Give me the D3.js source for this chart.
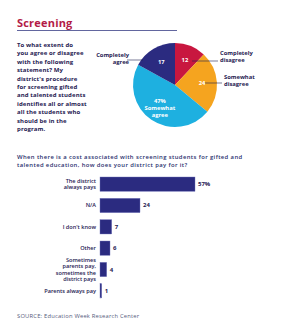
<!DOCTYPE html>
<html>
<head>
<meta charset="utf-8">
<script src="https://cdn.jsdelivr.net/npm/d3@7"></script>
<style>
  body { margin: 0; background: #fff; }
  text { font-family: "Open Sans", sans-serif; }
</style>
</head>
<body>
<script>
// chart values
var title = "Screening";
var question1 = ["To what extent do", "you agree or disagree", "with the following", "statement? My",
  "district's procedure", "for screening gifted", "and talented students", "identifies all or almost",
  "all the students who", "should be in the", "program."];
var pieLabels = ["Completely disagree", "Somewhat disagree", "Somewhat agree", "Completely agree"];
var pieValues = [12, 24, 47, 17];
var pieColors = ["#c8173f", "#f5a41f", "#1eb0e0", "#2b2b80"];

var question2 = ["When there is a cost associated with screening students for gifted and",
  "talented education, how does your district pay for it?"];
var barLabels = ["The district always pays", "N/A", "I don't know", "Other",
  "Sometimes parents pay, sometimes the district pays", "Parents always pay"];
var barLines = [["The district", "always pays"], ["N/A"], ["I don't know"], ["Other"],
  ["Sometimes", "parents pay,", "sometimes the", "district pays"], ["Parents always pay"]];
var barValues = [57, 24, 7, 6, 4, 1];
var source = "SOURCE: Education Week Research Center";

var W = 281, H = 335;
var navy = "#2b2b80", ink = "#1f2152";

var svg = d3.select("body").append("svg")
  .attr("width", W).attr("height", H);

// title + rule
svg.append("text")
  .attr("x", 17).attr("y", 27)
  .attr("font-size", 11).attr("font-weight", 700)
  .attr("letter-spacing", 0.2)
  .attr("fill", "#b31b47")
  .text(title);
svg.append("line")
  .attr("x1", 17).attr("x2", 177).attr("y1", 30.5).attr("y2", 30.5)
  .attr("stroke", "#3a3f86").attr("stroke-width", 0.8);

// first question
svg.append("g").selectAll("text")
  .data(question1).join("text")
  .attr("x", 17).attr("y", function(d, i) { return 47 + i * 8.4; })
  .attr("font-size", 6).attr("font-weight", 700).attr("fill", ink)
  .attr("letter-spacing", 0.1)
  .text(function(d) { return d; });

// pie
var cx = 175, cy = 85, r = 42;
var pie = d3.pie().sort(null).value(function(d) { return d; });
var arcs = pie(pieValues);
var arc = d3.arc().innerRadius(0).outerRadius(r);
var labelArc = d3.arc().innerRadius(27).outerRadius(27);

var gp = svg.append("g").attr("transform", "translate(" + cx + "," + cy + ")");
gp.selectAll("path")
  .data(arcs).join("path")
  .attr("d", arc)
  .attr("fill", function(d, i) { return pieColors[i]; });

gp.selectAll("text.val")
  .data(arcs).join("text")
  .attr("class", "val")
  .attr("x", function(d) { return labelArc.centroid(d)[0]; })
  .attr("y", function(d) { return labelArc.centroid(d)[1]; })
  .attr("text-anchor", "middle")
  .attr("font-size", 5.8).attr("font-weight", 700).attr("fill", "#fff")
  .each(function(d, i) {
    var t = d3.select(this);
    if (i === 2) {
      var lines = [d.value + "%", "Somewhat", "agree"];
      lines.forEach(function(s, k) {
        t.append("tspan").attr("x", labelArc.centroid(d)[0]).attr("dy", k === 0 ? -4 : 6.6).text(s);
      });
    } else {
      t.attr("dy", 2).text(d.value);
    }
  });

// outside labels with leader lines
var outside = [
  { i: 0, lines: ["Completely", "disagree"], lx: 220, ly: 55, anchor: "start", x1: 192, x2: 218, y: 61 },
  { i: 1, lines: ["Somewhat", "disagree"], lx: 224, ly: 79, anchor: "start", x1: 205, x2: 222, y: 83 },
  { i: 3, lines: ["Completely", "agree"], lx: 129, ly: 57, anchor: "end", x1: 127, x2: 143, y: 60 }
];
outside.forEach(function(o) {
  svg.append("line")
    .attr("x1", o.x1).attr("x2", o.x2).attr("y1", o.y).attr("y2", o.y)
    .attr("stroke", ink).attr("stroke-width", 0.6);
  svg.append("g").selectAll("text")
    .data(o.lines).join("text")
    .attr("x", o.lx).attr("y", function(d, k) { return o.ly + k * 6.6; })
    .attr("text-anchor", o.anchor)
    .attr("font-size", 5.8).attr("font-weight", 700).attr("fill", ink)
    .text(function(d) { return d; });
});

// second question
svg.append("g").selectAll("text")
  .data(question2).join("text")
  .attr("x", 17).attr("y", function(d, i) { return 159 + i * 8; })
  .attr("font-size", 5.9).attr("font-weight", 600).attr("fill", "#2a2f6e")
  .attr("letter-spacing", 0.38)
  .text(function(d) { return d; });

// bar chart
var x = d3.scaleLinear().domain([0, 57]).range([100, 195]);
var y = d3.scaleBand().domain(barLabels).range([177, 298]).paddingInner(0.33).paddingOuter(0);

var gb = svg.append("g");
gb.selectAll("rect")
  .data(barValues).join("rect")
  .attr("x", x(0))
  .attr("y", function(d, i) { return y(barLabels[i]); })
  .attr("width", function(d) { return x(d) - x(0); })
  .attr("height", y.bandwidth())
  .attr("fill", navy)
  .attr("stroke", "#6f72b8").attr("stroke-width", 0.4);

gb.selectAll("text.v")
  .data(barValues).join("text")
  .attr("class", "v")
  .attr("x", function(d) { return x(d) + 3; })
  .attr("y", function(d, i) { return y(barLabels[i]) + y.bandwidth() / 2 + 2; })
  .attr("font-size", 6).attr("font-weight", 700).attr("fill", ink)
  .text(function(d, i) { return i === 0 ? d + "%" : d; });

gb.selectAll("text.l")
  .data(barLines).join("text")
  .attr("class", "l")
  .attr("text-anchor", "end")
  .attr("font-size", 5.6).attr("font-weight", 600).attr("fill", ink)
  .each(function(lines, i) {
    var mid = y(barLabels[i]) + y.bandwidth() / 2;
    var t = d3.select(this);
    var lh = 6.6;
    lines.forEach(function(s, k) {
      t.append("tspan")
        .attr("x", 96)
        .attr("y", mid + 2 + (k - (lines.length - 1) / 2) * lh)
        .text(s);
    });
  });

// source
svg.append("text")
  .attr("x", 17).attr("y", 318)
  .attr("font-size", 5.8).attr("fill", "#565b7c")
  .attr("letter-spacing", 0.2)
  .text(source);
</script>
</body>
</html>
